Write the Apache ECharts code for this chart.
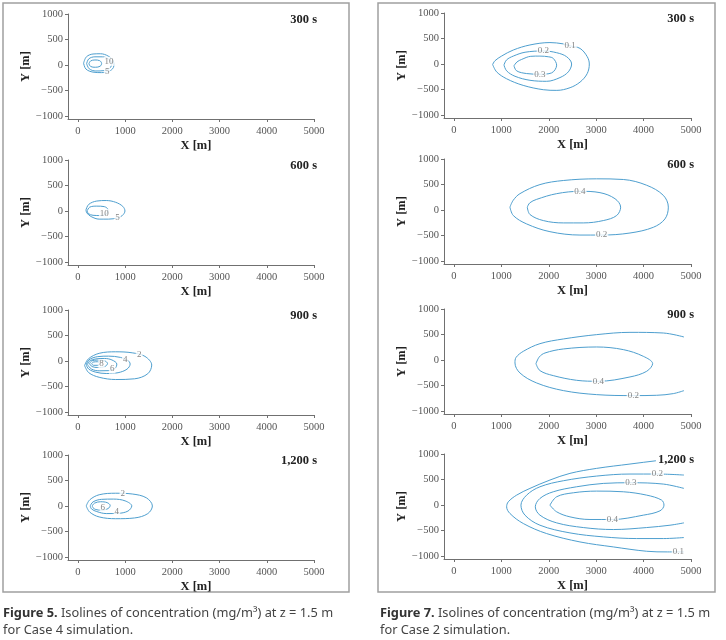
<!DOCTYPE html>
<html>
<head>
<meta charset="utf-8">
<script src="https://cdn.jsdelivr.net/npm/echarts@6/dist/echarts.min.js"></script>
<style>
  html, body { margin: 0; padding: 0; background: #fff; }
  #chart { width: 726px; height: 640px; }
</style>
</head>
<body>
<div id="chart"></div>
<script>
// tick labels and panel times
const xTicks = [0, 1000, 2000, 3000, 4000, 5000]
const yTicks = [-1000, -500, 0, 500, 1000]
const times = ['300 s', '600 s', '900 s', '1,200 s']

// Figure 5 (Case 4) isolines, [x, y] in metres
const l300_5 = [[120, 35], [180, 160], [320, 215], [480, 220], [640, 175], [750, 80], [760, -20], [680, -115], [500, -150], [320, -140], [170, -80], [120, 35]]
const l300_10 = [[185, 25], [230, 120], [360, 160], [520, 160], [650, 115], [714, 30], [680, -60], [560, -110], [380, -118], [240, -75], [185, 25]]
const l300_15 = [[233, 25], [270, 80], [360, 98], [460, 85], [502, 30], [470, -25], [370, -45], [270, -30], [233, 25]]
const l300_labels = [[660, 70, '10'], [620, -130, '5']]

const l600_5 = [[170, 20], [230, 130], [400, 195], [600, 205], [800, 170], [950, 90], [996, 0], [940, -90], [840, -135], [650, -160], [450, -160], [280, -110], [190, -40], [170, 20]]
const l600_10 = [[197, 5], [250, 75], [400, 95], [560, 85], [640, 20], [610, -55], [480, -90], [320, -85], [220, -50], [197, 5]]
const l600_labels = [[560, -45, '10'], [840, -135, '5']]

const l900_2 = [[141, -90], [220, 40], [450, 150], [800, 180], [1150, 160], [1420, 90], [1563, -80], [1480, -250], [1200, -350], [800, -364], [450, -320], [230, -230], [141, -90]]
const l900_4 = [[176, -80], [230, 20], [420, 85], [650, 95], [900, 70], [1060, 10], [1106, -60], [1040, -160], [850, -230], [600, -246], [380, -220], [230, -160], [176, -80]]
const l900_6 = [[204, -75], [240, -5], [380, 40], [560, 49], [720, 20], [824, -60], [790, -140], [640, -190], [450, -193], [290, -160], [204, -75]]
const l900_8 = [[246, -55], [290, 0], [420, 16], [560, 5], [627, -50], [570, -110], [420, -128], [300, -110], [246, -55]]
const l900_10 = [[290, -55], [330, -20], [420, -15], [470, -50], [420, -85], [330, -85], [290, -55]]
const l900_labels = [[1300, 130, '2'], [1000, 30, '4'], [725, -160, '6'], [500, -55, '8']]

const l1200_2 = [[176, 0], [250, 120], [450, 220], [800, 250], [1150, 235], [1450, 160], [1577, 0], [1480, -150], [1200, -235], [800, -250], [450, -215], [250, -120], [176, 0]]
const l1200_4 = [[260, 0], [320, 80], [500, 130], [750, 135], [1000, 100], [1141, 0], [1060, -100], [850, -145], [600, -149], [400, -110], [290, -60], [260, 0]]
const l1200_6 = [[303, 0], [350, 55], [480, 83], [620, 65], [683, 10], [640, -50], [500, -83], [380, -70], [320, -35], [303, 0]]
const l1200_labels = [[951, 234, '2'], [824, -109, '4'], [528, -30, '6']]

// Figure 7 (Case 2) isolines
const r300_01 = [[816, -10], [865, 63], [1005, 155], [1252, 274], [1603, 373], [2025, 420], [2300, 395], [2450, 355], [2660, 305], [2810, 145], [2855, 0], [2810, -190], [2660, -355], [2450, -465], [2170, -518], [1885, -505], [1460, -420], [1110, -290], [900, -155], [816, -10]]
const r300_02 = [[1055, -20], [1110, 80], [1252, 155], [1500, 230], [1885, 255], [2166, 221], [2377, 142], [2482, 0], [2412, -155], [2236, -267], [1955, -340], [1603, -320], [1287, -241], [1111, -135], [1055, -20]]
const r300_03 = [[1266, -36], [1330, 40], [1428, 89], [1620, 150], [1814, 155], [2000, 140], [2095, 109], [2166, -23], [2060, -175], [1814, -201], [1533, -188], [1322, -135], [1266, -36]]
const r300_labels = [[2450, 350, '0.1'], [1885, 261, '0.2'], [1814, -201, '0.3']]

const r600_02 = [[1181, 56], [1250, 190], [1392, 320], [1814, 498], [2307, 578], [3010, 611], [3572, 598], [4065, 485], [4416, 287], [4522, 56], [4451, -175], [4205, -340], [3713, -452], [3115, -492], [2658, -492], [2025, -426], [1533, -274], [1252, -109], [1181, 56]]
const r600_04 = [[1547, 56], [1600, 140], [1744, 208], [2166, 320], [2658, 366], [3080, 340], [3397, 221], [3516, 56], [3432, -109], [3150, -208], [2728, -254], [2307, -254], [1885, -208], [1603, -89], [1547, 56]]
const r600_labels = [[3115, -492, '0.2'], [2658, 366, '0.4']]

const r900_02 = [[4852, 451], [4416, 529], [3713, 542], [3010, 497], [2307, 412], [1814, 320], [1463, 170], [1310, 50], [1287, -59], [1392, -255], [1744, -451], [2307, -601], [3010, -680], [3783, -699], [4276, -693], [4627, -660], [4852, -601]]
const r900_04 = [[1730, -72], [1800, 60], [1920, 137], [2307, 216], [3010, 255], [3572, 203], [3994, 72], [4191, -72], [4065, -222], [3713, -333], [3045, -418], [2588, -399], [2095, -307], [1814, -209], [1730, -72]]
const r900_labels = [[3783, -699, '0.2'], [3045, -418, '0.4']]

const r1200_01 = [[4852, 930], [4276, 869], [3713, 803], [3010, 718], [2447, 620], [2025, 489], [1603, 325], [1322, 193], [1146, 62], [1111, -36], [1181, -167], [1463, -364], [1955, -561], [2658, -725], [3361, -823], [4065, -908], [4500, -921], [4852, -921]]
const r1200_02 = [[4852, 587], [4290, 607], [3713, 607], [3010, 567], [2307, 475], [1814, 357], [1533, 193], [1413, -3], [1498, -200], [1814, -397], [2447, -548], [3150, -626], [3854, -659], [4416, -659], [4852, -639]]
const r1200_03 = [[4852, 325], [4416, 410], [3734, 436], [3150, 423], [2588, 357], [2095, 259], [1814, 128], [1716, -36], [1814, -200], [2166, -351], [2728, -443], [3361, -482], [4065, -443], [4557, -397], [4852, -351]]
const r1200_04 = [[2025, -3], [2166, 161], [2518, 239], [3010, 272], [3572, 259], [4065, 193], [4381, 95], [4430, -3], [4346, -115], [3994, -200], [3340, -285], [2869, -285], [2447, -233], [2166, -134], [2025, -3]]
const r1200_labels = [[4733, -921, '0.1'], [4290, 607, '0.2'], [3734, 436, '0.3'], [3340, -285, '0.4']]

const columns = [
  [
    { lines: [l300_5, l300_10, l300_15], labels: l300_labels },
    { lines: [l600_5, l600_10], labels: l600_labels },
    { lines: [l900_2, l900_4, l900_6, l900_8, l900_10], labels: l900_labels },
    { lines: [l1200_2, l1200_4, l1200_6], labels: l1200_labels }
  ],
  [
    { lines: [r300_01, r300_02, r300_03], labels: r300_labels },
    { lines: [r600_02, r600_04], labels: r600_labels },
    { lines: [r900_02, r900_04], labels: r900_labels },
    { lines: [r1200_01, r1200_02, r1200_03, r1200_04], labels: r1200_labels }
  ]
]

const serif = '"Liberation Serif", "DejaVu Serif", serif'
const sans = '"Noto Sans", "Liberation Sans", sans-serif'
const isoColor = '#4e9fcf'
const axisColor = '#707070'

const colLeft = [68, 444]
const colWidth = [246, 247]
const rowTop = [[14, 160, 310, 455], [13, 159, 309, 454]]
const titleRight = [407, 30]

const grid = []
const xAxis = []
const yAxis = []
const series = []
const title = []

columns.forEach((col, c) => {
  col.forEach((panel, r) => {
    const i = grid.length
    grid.push({ left: colLeft[c], top: rowTop[c][r], width: colWidth[c], height: 105 })
    xAxis.push({
      gridIndex: i,
      type: 'value',
      min: -210,
      max: 5000,
      splitLine: { show: false },
      axisLine: { onZero: false, lineStyle: { color: axisColor, width: 1 } },
      axisTick: { customValues: xTicks, length: 3, lineStyle: { color: axisColor } },
      axisLabel: {
        customValues: xTicks,
        fontFamily: serif,
        fontSize: 10.5,
        color: '#555',
        margin: 7,
        formatter: v => String(v)
      },
      name: 'X [m]',
      nameLocation: 'middle',
      nameGap: 20,
      nameTextStyle: { fontFamily: serif, fontWeight: 'bold', fontSize: 12.5, color: '#222', padding: [0, 0, 0, 10] }
    })
    yAxis.push({
      gridIndex: i,
      type: 'value',
      min: -1060,
      max: 1000,
      splitLine: { show: false },
      axisLine: { show: true, onZero: false, lineStyle: { color: axisColor, width: 1 } },
      axisTick: { show: true, customValues: yTicks, length: 3, lineStyle: { color: axisColor } },
      axisLabel: {
        customValues: yTicks,
        fontFamily: serif,
        fontSize: 10.5,
        color: '#555',
        margin: 5,
        formatter: v => (v < 0 ? '\u2212' + (-v) : String(v))
      },
      name: 'Y [m]',
      nameLocation: 'middle',
      nameGap: 29,
      nameTextStyle: { fontFamily: serif, fontWeight: 'bold', fontSize: 12.5, color: '#222' }
    })
    panel.lines.forEach(pts => {
      series.push({
        type: 'line',
        xAxisIndex: i,
        yAxisIndex: i,
        data: pts,
        symbol: 'none',
        smooth: 0.35,
        lineStyle: { color: isoColor, width: 1 },
        silent: true,
        z: 2
      })
    })
    series.push({
      type: 'scatter',
      xAxisIndex: i,
      yAxisIndex: i,
      data: panel.labels,
      symbolSize: 1,
      itemStyle: { color: 'transparent' },
      label: {
        show: true,
        position: 'inside',
        formatter: p => p.data[2],
        fontFamily: serif,
        fontSize: 9,
        color: '#666',
        backgroundColor: '#fff',
        padding: [0, 1]
      },
      silent: true,
      z: 3
    })
    title.push({
      text: times[r],
      right: titleRight[c],
      top: rowTop[c][r] - 1,
      padding: [0, 2],
      backgroundColor: '#fff',
      textStyle: { fontFamily: serif, fontWeight: 'bold', fontSize: 12.5, color: '#222' }
    })
  })
})

const captionRich = {
  b: { fontFamily: sans, fontWeight: 'bold', fontSize: 12.8, color: '#333', lineHeight: 17 },
  t: { fontFamily: sans, fontWeight: 'normal', fontSize: 12.8, color: '#444', lineHeight: 17 }
}
title.push({
  text: '{b|Figure 5.}{t| Isolines of concentration (mg/m³) at z = 1.5 m}\n{t|for Case 4 simulation.}',
  left: 3,
  top: 605,
  padding: 0,
  textStyle: { fontWeight: 'normal', fontFamily: sans, rich: captionRich }
})
title.push({
  text: '{b|Figure 7.}{t| Isolines of concentration (mg/m³) at z = 1.5 m}\n{t|for Case 2 simulation.}',
  left: 380,
  top: 605,
  padding: 0,
  textStyle: { fontWeight: 'normal', fontFamily: sans, rich: captionRich }
})

const chart = echarts.init(document.getElementById('chart'), null, { renderer: 'canvas' })
chart.setOption({
  backgroundColor: '#fff',
  animation: false,
  textStyle: { fontFamily: serif },
  title,
  grid,
  xAxis,
  yAxis,
  series,
  graphic: [
    { type: 'rect', shape: { x: 3, y: 3, width: 346, height: 589 }, style: { fill: 'none', stroke: '#a0a0a0', lineWidth: 1.5 }, silent: true },
    { type: 'rect', shape: { x: 378, y: 3, width: 337, height: 589 }, style: { fill: 'none', stroke: '#a0a0a0', lineWidth: 1.5 }, silent: true }
  ]
})
</script>
</body>
</html>
